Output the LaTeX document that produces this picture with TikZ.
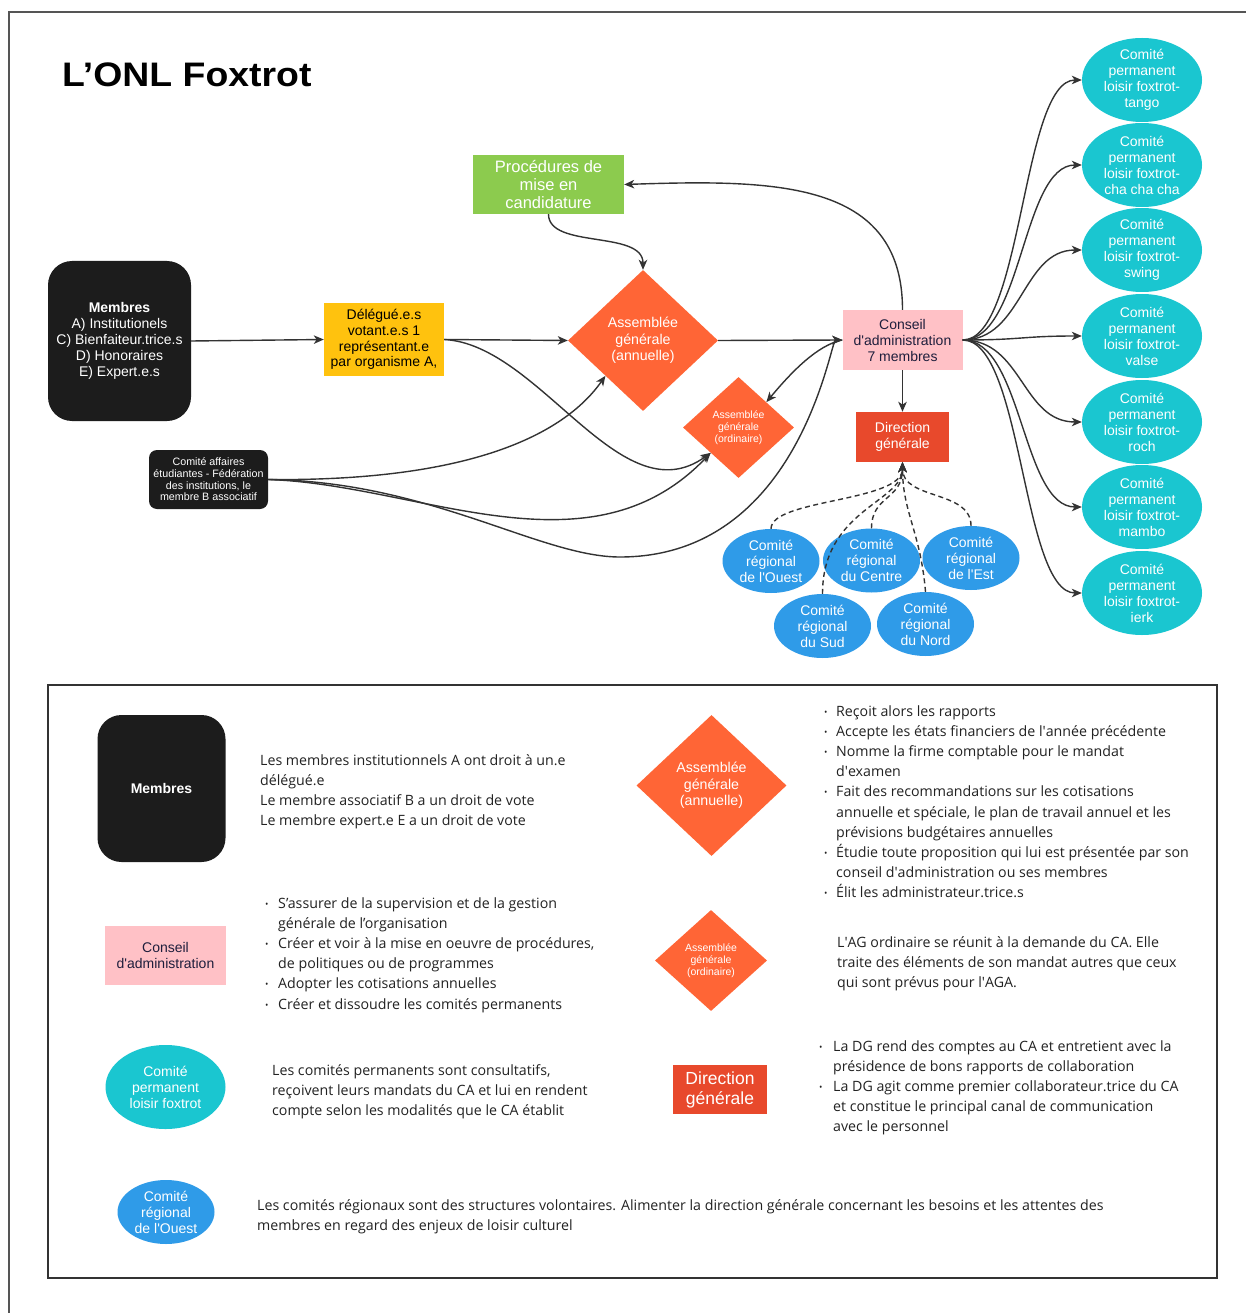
\documentclass[tikz,border=0pt]{standalone}
\usepackage{fontspec}
\usepackage{graphicx}
\setmainfont{Liberation Sans}
\newfontfamily\notefont{Open Sans}
\usetikzlibrary{shapes.geometric,arrows.meta}

\definecolor{inkblack}{HTML}{1C1C1C}
\definecolor{agorange}{HTML}{FF6536}
\definecolor{dgred}{HTML}{E8492C}
\definecolor{procgreen}{HTML}{8CCB4E}
\definecolor{delyellow}{HTML}{FFC20E}
\definecolor{capink}{HTML}{FFC1C6}
\definecolor{permcyan}{HTML}{1AC6D0}
\definecolor{regblue}{HTML}{2F9BE8}
\definecolor{linegray}{HTML}{333333}
\definecolor{framegray}{HTML}{555555}
\definecolor{catext}{HTML}{1E1E3C}
\definecolor{notegray}{HTML}{222222}

\newcommand{\fsz}[2]{\fontsize{#1}{#2}\selectfont}
\newcommand{\ap}{\textquotesingle}
% one bullet paragraph with hanging indent
\newcommand{\bitem}[2][12pt]{\par\noindent\hangindent=#1\hangafter=1\makebox[#1][l]{\raisebox{1pt}{\fsz{9}{9}\textbullet}}#2}
% explanatory text block, first baseline = box baseline
\newcommand{\notebox}[2]{\parbox[t]{#1}{\notefont\fsz{14.2}{20.2}\parskip=0pt\parindent=0pt #2}}

\tikzset{
  conn/.style={draw=linegray, line width=1.4pt, -{Stealth[length=10pt,width=8.5pt,inset=2.8pt]}},
  dconn/.style={conn, dash pattern=on 5pt off 3.5pt},
  memberbox/.style={fill=inkblack, rounded corners=24pt, text=white, align=center, inner sep=0pt},
  cafbox/.style={fill=inkblack, rounded corners=8pt, text=white, align=center, inner sep=0pt,
    minimum width=119pt, minimum height=59pt, font=\fsz{10.7}{11.7}},
  delbox/.style={fill=delyellow, text=black, align=center, inner sep=0pt,
    minimum width=120pt, minimum height=73pt, font=\fsz{14}{15.8}},
  procbox/.style={fill=procgreen, text=white, align=center, inner sep=0pt,
    minimum width=151pt, minimum height=59pt, font=\fsz{16.5}{18}},
  agbig/.style={diamond, fill=agorange, text=white, align=center, inner sep=0pt,
    minimum width=150pt, minimum height=141pt, font=\fsz{14.2}{16.5}},
  agsmall/.style={diamond, fill=agorange, text=white, align=center, inner sep=0pt,
    minimum width=111pt, minimum height=101pt, font=\fsz{10.5}{12}},
  capbox/.style={fill=capink, text=catext, align=center, inner sep=0pt, font=\fsz{14}{16}},
  dgbox/.style={fill=dgred, text=white, align=center, inner sep=0pt},
  permell/.style={ellipse, fill=permcyan, text=white, align=center, inner xsep=0pt, inner ysep=-4pt,
    minimum width=120pt, minimum height=84pt, font=\fsz{14}{16}},
  regell/.style={ellipse, fill=regblue, text=white, align=center, inner xsep=0pt, inner ysep=-3pt,
    minimum width=97pt, minimum height=64pt, font=\fsz{14}{16}},
  desc/.style={anchor=base west, inner sep=0pt, text=notegray},
}

\begin{document}
\begin{tikzpicture}[x=1pt,y=-1pt]
\useasboundingbox (0,0) rectangle (1246,1313);
\fill[white] (0,0) rectangle (1246,1313);
\draw[framegray, line width=2pt] (9,1320) |- (1250,12);

% title
\node[anchor=base west, inner sep=0pt] (title) at (62,87)
  {\scalebox{1.1}[1]{\bfseries\fsz{34}{36}L’ONL Foxtrot}};

% ---------- organisation chart ----------
\node[memberbox, minimum width=143pt, minimum height=160pt, font=\fsz{14}{16}] (mem) at (119.5,341)
  {\textbf{Membres}\\A) Institutionels\\C) Bienfaiteur.trice.s\\D) Honoraires\\E) Expert.e.s};
\node[delbox] (del) at (384,339.5) {Délégué.e.s\\votant.e.s 1\\représentant.e\\par organisme A,};
\node[procbox] (proc) at (548.5,184.5) {Procédures de\\mise en\\candidature};
\node[agbig] (aga) at (643,340.5) {Assemblée\\générale\\(annuelle)};
\node[agsmall] (ago) at (738.5,427.5) {Assemblée\\générale\\(ordinaire)};
\node[capbox, minimum width=120pt, minimum height=60pt] (cap) at (902.5,340)
  {Conseil\\d\ap administration\\7 membres};
\node[dgbox, minimum width=93pt, minimum height=50pt, font=\fsz{14}{16}] (dg) at (902.5,437) {Direction\\générale};
\node[cafbox] (caf) at (208.5,479.5) {Comité affaires\\étudiantes - Fédération\\des institutions, le\\membre B associatif};

% regional committees
\node[regell] (rouest) at (771,561) {Comité\\régional\\de l\ap Ouest};
\node[regell] (rcentre) at (871.5,560.5) {Comité\\régional\\du Centre};
\node[regell] (rest) at (971,558) {Comité\\régional\\de l\ap Est};
\node[regell] (rsud) at (822.5,626) {Comité\\régional\\du Sud};
\node[regell] (rnord) at (925.5,624) {Comité\\régional\\du Nord};

% standing committees
\node[permell] (ptango)  at (1142,80)  {Comité\\permanent\\loisir foxtrot-\\tango};
\node[permell] (pchacha) at (1142,165) {Comité\\permanent\\loisir foxtrot-\\cha cha cha};
\node[permell] (pswing)  at (1142,250) {Comité\\permanent\\loisir foxtrot-\\swing};
\node[permell] (pvalse)  at (1142,336) {Comité\\permanent\\loisir foxtrot-\\valse};
\node[permell] (proch)   at (1142,422) {Comité\\permanent\\loisir foxtrot-\\roch};
\node[permell] (pmambo)  at (1142,507) {Comité\\permanent\\loisir foxtrot-\\mambo};
\node[permell] (pierk)   at (1142,593) {Comité\\permanent\\loisir foxtrot-\\ierk};

% connectors
\draw[conn] (mem.east) -- (del.west);
\draw[conn] (del.east) -- (aga.west);
\draw[conn] (del.east) .. controls +(96,5) and +(-90,65) .. (ago.south west);
\draw[conn] (caf.east) .. controls +(190,2) and +(-45,64) .. (aga.south west);
\draw[conn] (caf.east) .. controls +(152,5) and +(-121,127) .. (ago.south west);
\coordinate (dip) at (620,557);
\draw[conn] (caf.east) .. controls +(162,2) and +(-80,0) .. (dip)
  .. controls +(180,0) and +(-12,0) .. (cap.west);
\draw[conn] (aga.east) -- (cap.west);
\draw[conn] (cap.west) .. controls +(-25,5) and +(25,-30) .. (ago.north east);
\draw[conn] (cap.north) .. controls +(0,-130) and +(150,-5) .. (proc.east);
\draw[conn] (proc.south) .. controls +(0,35) and +(0,-40) .. (aga.north);
\draw[conn] (cap.south) -- (dg.north);
\foreach \p in {ptango,pchacha,pswing,pvalse,proch,pmambo,pierk}
  \draw[conn] (cap.east) .. controls +(60,0) and +(-60,0) .. (\p.west);

\draw[dconn] (rouest.north) .. controls +(0,-30) and +(0,40) .. (dg.south);
\draw[dconn] (rcentre.north) .. controls +(0,-33) and +(0,38) .. (dg.south);
\draw[dconn] (rest.north) .. controls +(0,-36) and +(0,38) .. (dg.south);
\draw[dconn] (rsud.north) .. controls +(0,-84) and +(0,40) .. (dg.south);
\draw[dconn] (rnord.north) .. controls +(-5,-60) and +(0,50) .. (dg.south);

% ---------- legend ----------
\draw[linegray, line width=2pt] (48,685) rectangle (1217,1278);

\node[memberbox, minimum width=128pt, minimum height=147pt, font=\bfseries\fsz{14}{16}] (lmem) at (161.5,788.5) {Membres};
\node[desc] (lmemtxt) at (260,765) {\notebox{420pt}{Les membres institutionnels A ont droit à un.e\\délégué.e\\Le membre associatif B a un droit de vote\\Le membre expert.e E a un droit de vote}};

\node[agbig] (laga) at (711.5,785.5) {Assemblée\\générale\\(annuelle)};
\node[desc] (lagatxt) at (824,716) {\notebox{400pt}{%
\bitem{Reçoit alors les rapports}
\bitem{Accepte les états financiers de l\ap année précédente}
\bitem{Nomme la firme comptable pour le mandat\\d\ap examen}
\bitem{Fait des recommandations sur les cotisations\\annuelle et spéciale, le plan de travail annuel et les\\prévisions budgétaires annuelles}
\bitem{Étudie toute proposition qui lui est présentée par son\\conseil d\ap administration ou ses membres}
\bitem{Élit les administrateur.trice.s}}};

\node[capbox, minimum width=121pt, minimum height=59pt] (lcap) at (165.5,955.5) {Conseil\\d\ap administration};
\node[desc] (lcaptxt) at (265,908) {\notebox{400pt}{%
\bitem[13pt]{S’assurer de la supervision et de la gestion\\générale de l’organisation}
\bitem[13pt]{Créer et voir à la mise en oeuvre de procédures,\\de politiques ou de programmes}
\bitem[13pt]{Adopter les cotisations annuelles}
\bitem[13pt]{Créer et dissoudre les comités permanents}}};

\node[agsmall, minimum width=112pt, minimum height=101pt] (lago) at (711,960.5) {Assemblée\\générale\\(ordinaire)};
\node[desc] (lagotxt) at (837,947) {\notebox{400pt}{L\ap AG ordinaire se réunit à la demande du CA. Elle\\traite des éléments de son mandat autres que ceux\\qui sont prévus pour l\ap AGA.}};

\node[permell, inner ysep=0pt] (lperm) at (165.5,1087) {Comité\\permanent\\loisir foxtrot};
\node[desc] (lpermtxt) at (272,1075) {\notebox{400pt}{Les comités permanents sont consultatifs,\\reçoivent leurs mandats du CA et lui en rendent\\compte selon les modalités que le CA établit}};

\node[dgbox, minimum width=94pt, minimum height=49pt, font=\fsz{17.5}{20}] (ldg) at (720,1089.5) {Direction\\générale};
\node[desc] (ldgtxt) at (819,1051) {\notebox{420pt}{%
\bitem[14pt]{La DG rend des comptes au CA et entretient avec la\\présidence de bons rapports de collaboration}
\bitem[14pt]{La DG agit comme premier collaborateur.trice du CA\\et constitue le principal canal de communication\\avec le personnel}}};

\node[regell] (lreg) at (166,1212) {Comité\\régional\\de l\ap Ouest};
\node[desc] (lregtxt) at (257,1210) {\notebox{960pt}{Les comités régionaux sont des structures volontaires. Alimenter la direction générale concernant les besoins et les attentes des\\membres en regard des enjeux de loisir culturel}};
\end{tikzpicture}
\end{document}
